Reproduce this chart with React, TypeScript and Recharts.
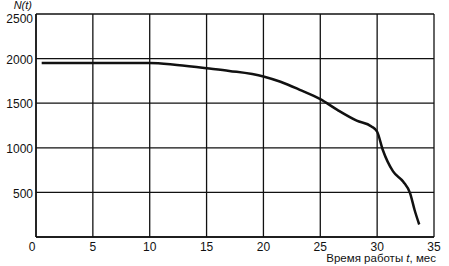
import React from "react";
import { LineChart, Line, XAxis, YAxis, CartesianGrid, Label } from "recharts";

const months = [0.5, 5, 10, 12, 15, 17, 20, 21.5, 23.2, 25, 26.5, 28.2, 29.5, 30, 30.5, 31.4, 32.3, 32.9, 33.3, 33.7];
const counts = [1950, 1952, 1950, 1935, 1892, 1862, 1800, 1740, 1650, 1545, 1425, 1305, 1240, 1180, 975, 735, 620, 490, 300, 140];
const xTicks = [0, 5, 10, 15, 20, 25, 30, 35];
const yTicks = [500, 1000, 1500, 2000, 2500];

const data = months.map((t, i) => ({ t, n: counts[i] }));

const font = "'Liberation Sans', Arial, sans-serif";

const YTick = (props: any) => {
  const { x, y, payload } = props;
  const shift = payload.value === 2500 ? 5 : 1;
  return (
    <text x={x} y={y + shift} dy="0.355em" textAnchor="end" fill="#111" fontSize={12} fontFamily={font}>
      {payload.value}
    </text>
  );
};

const XTick = (props: any) => {
  const { x, y, payload } = props;
  const shift = payload.value === 0 ? -4 : 0;
  return (
    <text x={x + shift} y={y} dy="0.71em" textAnchor="middle" fill="#111" fontSize={12} fontFamily={font}>
      {payload.value}
    </text>
  );
};

export default function App() {
  return (
    <div style={{ position: "absolute", left: 0, top: 0, width: 449, height: 266, background: "#fff" }}>
      <LineChart width={449} height={266} data={data} margin={{ top: 14, right: 15, left: 0, bottom: 0 }}>
        <CartesianGrid stroke="#111" strokeWidth={1.3} />
        <XAxis
          dataKey="t"
          type="number"
          domain={[0, 35]}
          ticks={xTicks}
          height={29}
          tickSize={0}
          tickMargin={5}
          stroke="#111"
          strokeWidth={1.5}
          tick={<XTick />}
          interval={0}
        >
          <Label
            content={() => (
              <text x={436} y={262} textAnchor="end" fill="#111" fontSize={11.5} fontFamily={font}>
                Время работы <tspan fontStyle="italic">t</tspan>, мес
              </text>
            )}
          />
        </XAxis>
        <YAxis
          type="number"
          domain={[0, 2500]}
          ticks={yTicks}
          width={36}
          tickSize={0}
          tickMargin={3}
          stroke="#111"
          strokeWidth={1.5}
          tick={<YTick />}
          interval={0}
        >
          <Label
            content={() => (
              <text x={32} y={9} textAnchor="end" fill="#111" fontSize={11} fontFamily={font} fontStyle="italic">
                N(t)
              </text>
            )}
          />
        </YAxis>
        <Line
          dataKey="n"
          type="monotone"
          stroke="#111"
          strokeWidth={2.5}
          dot={false}
          isAnimationActive={false}
        />
      </LineChart>
    </div>
  );
}
